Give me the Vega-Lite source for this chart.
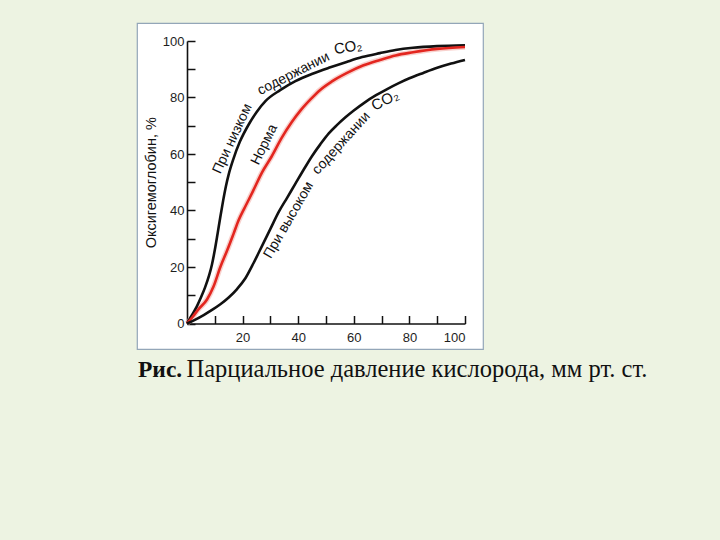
{
  "$schema": "https://vega.github.io/schema/vega-lite/v6.json",
  "width": 346,
  "height": 326,
  "autosize": {"type": "none"},
  "padding": {"left": 137, "top": 23, "right": 237, "bottom": 191},
  "background": "#edf3e2",
  "title": {
    "text": "Рис.",
    "orient": "bottom",
    "anchor": "start",
    "frame": "group",
    "font": "Liberation Serif",
    "fontSize": 23.5,
    "fontWeight": "bold",
    "color": "#111111",
    "baseline": "alphabetic",
    "offset": -4.5,
    "dx": 1
  },
  "config": {
    "view": {"fill": "#ffffff", "stroke": "#93a6b8", "strokeWidth": 1.2},
    "axis": {
      "grid": false,
      "domainColor": "#111111",
      "domainWidth": 1.6,
      "tickColor": "#111111",
      "tickWidth": 1.5,
      "tickSize": -8,
      "labelFont": "Liberation Sans",
      "labelFontSize": 13,
      "labelColor": "#1e1e1e",
      "titleColor": "#111111",
      "titleFontWeight": "normal"
    }
  },
  "datasets": {
    "curves": [
      {"series": "low", "p": 0, "s": 0}, {"series": "low", "p": 1.5, "s": 2.5}, {"series": "low", "p": 3.5, "s": 6}, {"series": "low", "p": 5, "s": 9.2}, {"series": "low", "p": 6.5, "s": 12.8}, {"series": "low", "p": 8, "s": 17.2}, {"series": "low", "p": 9, "s": 21}, {"series": "low", "p": 10, "s": 26}, {"series": "low", "p": 11, "s": 31.8}, {"series": "low", "p": 12, "s": 37.8}, {"series": "low", "p": 13, "s": 43.5}, {"series": "low", "p": 14, "s": 48.6}, {"series": "low", "p": 15, "s": 52.8}, {"series": "low", "p": 16.7, "s": 58.3}, {"series": "low", "p": 19, "s": 64.3}, {"series": "low", "p": 22.4, "s": 70.8}, {"series": "low", "p": 25, "s": 74.8}, {"series": "low", "p": 28.3, "s": 78.8}, {"series": "low", "p": 33.5, "s": 82.6}, {"series": "low", "p": 39, "s": 85.8}, {"series": "low", "p": 45.4, "s": 88.5}, {"series": "low", "p": 51, "s": 90.5}, {"series": "low", "p": 57.4, "s": 92.6}, {"series": "low", "p": 63, "s": 94.3}, {"series": "low", "p": 69.4, "s": 95.7}, {"series": "low", "p": 75, "s": 96.8}, {"series": "low", "p": 81.3, "s": 97.6}, {"series": "low", "p": 90, "s": 98.2}, {"series": "low", "p": 100, "s": 98.5},
      {"series": "normal", "p": 0, "s": 0}, {"series": "normal", "p": 2, "s": 2.3}, {"series": "normal", "p": 4.1, "s": 5}, {"series": "normal", "p": 7.2, "s": 8.5}, {"series": "normal", "p": 9.5, "s": 13}, {"series": "normal", "p": 12, "s": 20}, {"series": "normal", "p": 14.5, "s": 26}, {"series": "normal", "p": 16.8, "s": 31.9}, {"series": "normal", "p": 18.6, "s": 36.6}, {"series": "normal", "p": 20.5, "s": 40.5}, {"series": "normal", "p": 22.2, "s": 43.8}, {"series": "normal", "p": 23.9, "s": 47.2}, {"series": "normal", "p": 27, "s": 53.5}, {"series": "normal", "p": 30.5, "s": 59.2}, {"series": "normal", "p": 34, "s": 65.6}, {"series": "normal", "p": 37.7, "s": 71.3}, {"series": "normal", "p": 41, "s": 75.6}, {"series": "normal", "p": 44.5, "s": 79.4}, {"series": "normal", "p": 47.8, "s": 82.6}, {"series": "normal", "p": 52, "s": 85.6}, {"series": "normal", "p": 57.4, "s": 88.6}, {"series": "normal", "p": 63.5, "s": 91.4}, {"series": "normal", "p": 69.4, "s": 93.3}, {"series": "normal", "p": 75, "s": 94.9}, {"series": "normal", "p": 81.3, "s": 96}, {"series": "normal", "p": 90, "s": 97.2}, {"series": "normal", "p": 100, "s": 97.9},
      {"series": "high", "p": 0, "s": 0}, {"series": "high", "p": 3, "s": 1.4}, {"series": "high", "p": 6, "s": 3}, {"series": "high", "p": 9, "s": 4.8}, {"series": "high", "p": 12, "s": 6.8}, {"series": "high", "p": 15, "s": 9.2}, {"series": "high", "p": 18, "s": 12.2}, {"series": "high", "p": 21, "s": 16}, {"series": "high", "p": 24, "s": 21.5}, {"series": "high", "p": 27, "s": 27.5}, {"series": "high", "p": 30, "s": 33.5}, {"series": "high", "p": 33, "s": 39.5}, {"series": "high", "p": 36, "s": 44.5}, {"series": "high", "p": 39, "s": 49.5}, {"series": "high", "p": 42, "s": 54.5}, {"series": "high", "p": 45, "s": 59.3}, {"series": "high", "p": 48, "s": 63.5}, {"series": "high", "p": 51, "s": 67.3}, {"series": "high", "p": 54, "s": 70.3}, {"series": "high", "p": 57, "s": 73}, {"series": "high", "p": 60, "s": 75.4}, {"series": "high", "p": 64, "s": 78.3}, {"series": "high", "p": 68, "s": 80.8}, {"series": "high", "p": 72, "s": 83}, {"series": "high", "p": 76, "s": 85}, {"series": "high", "p": 80, "s": 86.8}, {"series": "high", "p": 85, "s": 88.7}, {"series": "high", "p": 90, "s": 90.5}, {"series": "high", "p": 95, "s": 92}, {"series": "high", "p": 100, "s": 93.3}
    ],
    "labels": [
      {"key": "lowA", "label": "При низком", "p": 16.4, "s": 65.4},
      {"key": "lowB", "label": "содержании", "p": 38.3, "s": 88.4},
      {"key": "lowC", "label": "CO₂", "p": 57.9, "s": 97.9},
      {"key": "norm", "label": "Норма", "p": 27.8, "s": 63.3},
      {"key": "highA", "label": "При высоком", "p": 36.6, "s": 36.6},
      {"key": "highB", "label": "содержании", "p": 55.5, "s": 63.8},
      {"key": "highC", "label": "CO₂", "p": 71.2, "s": 79.1}
    ]
  },
  "encoding": {
    "x": {
      "field": "p",
      "type": "quantitative",
      "scale": {"domain": [0, 100], "range": [50, 328], "nice": false, "zero": false},
      "axis": {
        "offset": -25.5,
        "values": [10, 20, 30, 40, 50, 60, 70, 80, 90, 100],
        "labelExpr": "datum.value % 20 === 0 ? datum.label : ''",
        "labelPadding": 16,
        "title": "Парциальное давление кислорода, мм рт. ст.",
        "titleFont": "Liberation Serif",
        "titleFontSize": 24.5,
        "titleAlign": "left",
        "titleBaseline": "alphabetic",
        "titleX": 49,
        "titleY": 53
      }
    },
    "y": {
      "field": "s",
      "type": "quantitative",
      "scale": {"domain": [0, 100], "range": [300.5, 18], "nice": false, "zero": false},
      "axis": {
        "offset": -50,
        "values": [0, 10, 20, 30, 40, 50, 60, 70, 80, 90, 100],
        "labelExpr": "datum.value % 20 === 0 ? datum.label : ''",
        "labelPadding": 11,
        "title": "Оксигемоглобин, %",
        "titleFont": "Liberation Sans",
        "titleFontSize": 14.5,
        "titlePadding": 4
      }
    }
  },
  "layer": [
    {
      "data": {"name": "curves"},
      "transform": [{"filter": "datum.series === 'normal'"}],
      "mark": {"type": "line", "strokeWidth": 5.5, "color": "#f4b3ab", "opacity": 0.6, "interpolate": "monotone"},
      "encoding": {}
    },
    {
      "data": {"name": "curves"},
      "mark": {"type": "line", "strokeWidth": 2.6, "interpolate": "monotone"},
      "encoding": {
        "color": {
          "field": "series",
          "type": "nominal",
          "scale": {"domain": ["low", "normal", "high"], "range": ["#111111", "#e3261f", "#111111"]},
          "legend": null
        }
      }
    },
    {
      "data": {"name": "labels"},
      "transform": [{"filter": "datum.key === 'lowA'"}],
      "mark": {"type": "text", "angle": -65, "font": "Liberation Sans", "fontSize": 14, "color": "#111111", "align": "center", "baseline": "middle"},
      "encoding": {"text": {"field": "label"}}
    },
    {
      "data": {"name": "labels"},
      "transform": [{"filter": "datum.key === 'lowB'"}],
      "mark": {"type": "text", "angle": -27, "font": "Liberation Sans", "fontSize": 14, "color": "#111111", "align": "center", "baseline": "middle"},
      "encoding": {"text": {"field": "label"}}
    },
    {
      "data": {"name": "labels"},
      "transform": [{"filter": "datum.key === 'lowC'"}],
      "mark": {"type": "text", "angle": -10, "font": "Liberation Sans", "fontSize": 15, "color": "#111111", "align": "center", "baseline": "middle"},
      "encoding": {"text": {"field": "label"}}
    },
    {
      "data": {"name": "labels"},
      "transform": [{"filter": "datum.key === 'norm'"}],
      "mark": {"type": "text", "angle": -64, "font": "Liberation Sans", "fontSize": 14, "color": "#111111", "align": "center", "baseline": "middle"},
      "encoding": {"text": {"field": "label"}}
    },
    {
      "data": {"name": "labels"},
      "transform": [{"filter": "datum.key === 'highA'"}],
      "mark": {"type": "text", "angle": -60, "font": "Liberation Sans", "fontSize": 14, "color": "#111111", "align": "center", "baseline": "middle"},
      "encoding": {"text": {"field": "label"}}
    },
    {
      "data": {"name": "labels"},
      "transform": [{"filter": "datum.key === 'highB'"}],
      "mark": {"type": "text", "angle": -48, "font": "Liberation Sans", "fontSize": 14, "color": "#111111", "align": "center", "baseline": "middle"},
      "encoding": {"text": {"field": "label"}}
    },
    {
      "data": {"name": "labels"},
      "transform": [{"filter": "datum.key === 'highC'"}],
      "mark": {"type": "text", "angle": -27, "font": "Liberation Sans", "fontSize": 15, "color": "#111111", "align": "center", "baseline": "middle"},
      "encoding": {"text": {"field": "label"}}
    }
  ]
}
